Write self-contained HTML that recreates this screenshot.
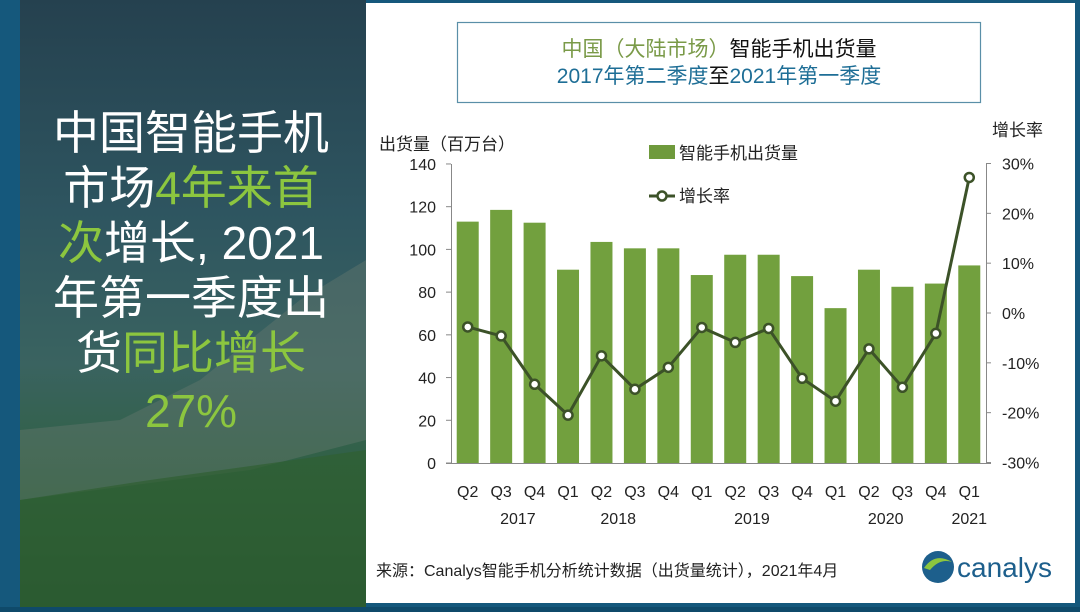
<!DOCTYPE html>
<html><head><meta charset="utf-8"><style>
body{margin:0;width:1080px;height:607px;overflow:hidden;background:#0f4a6a;font-family:"Liberation Sans","Noto Sans CJK SC",sans-serif}
</style></head><body>
<svg width="1080" height="607" xmlns="http://www.w3.org/2000/svg" font-family="'Liberation Sans','Noto Sans CJK SC',sans-serif">
<defs>
<linearGradient id="bg" x1="0" y1="0" x2="0" y2="1">
<stop offset="0" stop-color="#25414f"/><stop offset="0.35" stop-color="#2e5560"/><stop offset="0.6" stop-color="#3a6360"/><stop offset="0.8" stop-color="#2f6040"/><stop offset="1" stop-color="#22502e"/></linearGradient>
</defs>
<rect x="0" y="0" width="1080" height="607" fill="#15587c"/>
<rect x="20" y="0" width="346" height="607" fill="url(#bg)"/>
<path d="M20 430 L120 420 L200 380 L300 300 L366 260 L366 440 L250 470 L20 500Z" fill="#6a7a70" opacity="0.4"/>
<path d="M20 500 L150 480 L366 450 L366 607 L20 607Z" fill="#2f6032" opacity="0.7"/>
<g font-size="46" text-anchor="middle" fill="#ffffff">
<text x="191" y="149">中国智能手机</text>
<text x="191" y="204">市场<tspan fill="#8cc63f">4年来首</tspan></text>
<text x="191" y="259"><tspan fill="#8cc63f">次</tspan>增长, 2021</text>
<text x="191" y="314">年第一季度出</text>
<text x="191" y="369">货<tspan fill="#8cc63f">同比增长</tspan></text>
<text x="191" y="427" fill="#8cc63f">27%</text>
</g>
<rect x="366" y="3" width="709" height="600" fill="#ffffff"/>
<rect x="457.5" y="22.5" width="523" height="80" fill="none" stroke="#5a8fa8" stroke-width="1.2"/>
<text x="719" y="56" font-size="21" text-anchor="middle"><tspan fill="#7a9a48">中国（大陆市场）</tspan><tspan fill="#111">智能手机出货量</tspan></text>
<text x="719" y="83" font-size="21" text-anchor="middle" fill="#1e6e96">2017年第二季度<tspan fill="#111">至</tspan>2021年第一季度</text>
<text x="379" y="150" font-size="17" fill="#222">出货量（百万台）</text>
<text x="992" y="136" font-size="17" fill="#222">增长率</text>
<rect x="649" y="145" width="26" height="14" fill="#6f9a3c"/>
<text x="679" y="159" font-size="17" fill="#222">智能手机出货量</text>
<line x1="649" y1="196" x2="675" y2="196" stroke="#3c5228" stroke-width="3"/>
<circle cx="662" cy="196" r="4.5" fill="#fff" stroke="#3c5228" stroke-width="2.5"/>
<text x="679" y="202" font-size="17" fill="#222">增长率</text>
<g fill="#72a03e" id="bars"></g>
<g stroke="#888" stroke-width="1" fill="none">
<line x1="451.5" y1="164" x2="451.5" y2="463"/>
<line x1="446" y1="463.5" x2="991" y2="463.5"/>
<line x1="986.5" y1="164" x2="986.5" y2="463"/>
</g>
<g id="ticks" font-size="16" fill="#222"></g>
<g id="line"></g>
<text x="376" y="576" font-size="16" fill="#222">来源：Canalys智能手机分析统计数据（出货量统计），2021年4月</text>
<circle cx="938" cy="567" r="16" fill="#1d5f8c"/>
<path d="M924 568 Q935 552 952 562 Q940 558 930 570Z" fill="#8cc63f"/>
<text x="957" y="577" font-size="28" fill="#1d5f8c">canalys</text>
</svg>
<script>
const ns="http://www.w3.org/2000/svg";
function el(p,t,a,txt){const e=document.createElementNS(ns,t);for(const k in a)e.setAttribute(k,a[k]);if(txt!==undefined)e.textContent=txt;p.appendChild(e);return e;}
const v=[113,118.5,112.5,90.5,103.5,100.5,100.5,88,97.5,97.5,87.5,72.5,90.5,82.5,84,92.5];
const g=[-2.8,-4.6,-14.3,-20.5,-8.6,-15.3,-10.9,-2.9,-5.9,-3.1,-13.1,-17.7,-7.2,-14.9,-4.1,27.2];
const q=["Q2","Q3","Q4","Q1","Q2","Q3","Q4","Q1","Q2","Q3","Q4","Q1","Q2","Q3","Q4","Q1"];
const bars=document.getElementById('bars'),ticks=document.getElementById('ticks'),line=document.getElementById('line');
const step=535/16;let pts=[];
for(let i=0;i<16;i++){const cx=451+step*(i+0.5);const y=463-v[i]*2.136;
el(bars,'rect',{x:cx-11,y:y,width:22,height:463-y});
el(ticks,'text',{x:cx,y:497,'text-anchor':'middle'},q[i]);
pts.push([cx,313-g[i]*4.983]);}
el(line,'polyline',{points:pts.map(p=>p.join(',')).join(' '),fill:'none',stroke:'#3c5228','stroke-width':3,'stroke-linejoin':'round'});
pts.forEach(p=>el(line,'circle',{cx:p[0],cy:p[1],r:4.5,fill:'#fff',stroke:'#3c5228','stroke-width':2.5}));
for(let k=0;k<=7;k++){const y=463-k*20*2.136;el(ticks,'text',{x:436,y:y+6,'text-anchor':'end'},String(k*20));
el(ticks,'line',{x1:446,x2:451,y1:y,y2:y,stroke:'#888'});}
for(let k=-3;k<=3;k++){const y=313-k*10*4.983;el(ticks,'text',{x:1002,y:y+6},(k*10)+'%');
el(ticks,'line',{x1:986,x2:991,y1:y,y2:y,stroke:'#888'});}
[["2017",1.5],["2018",4.5],["2019",8.5],["2020",12.5],["2021",15]].forEach(([t,i])=>el(ticks,'text',{x:451+step*(i+0.5),y:524,'text-anchor':'middle'},t));
</script>
</body></html>
